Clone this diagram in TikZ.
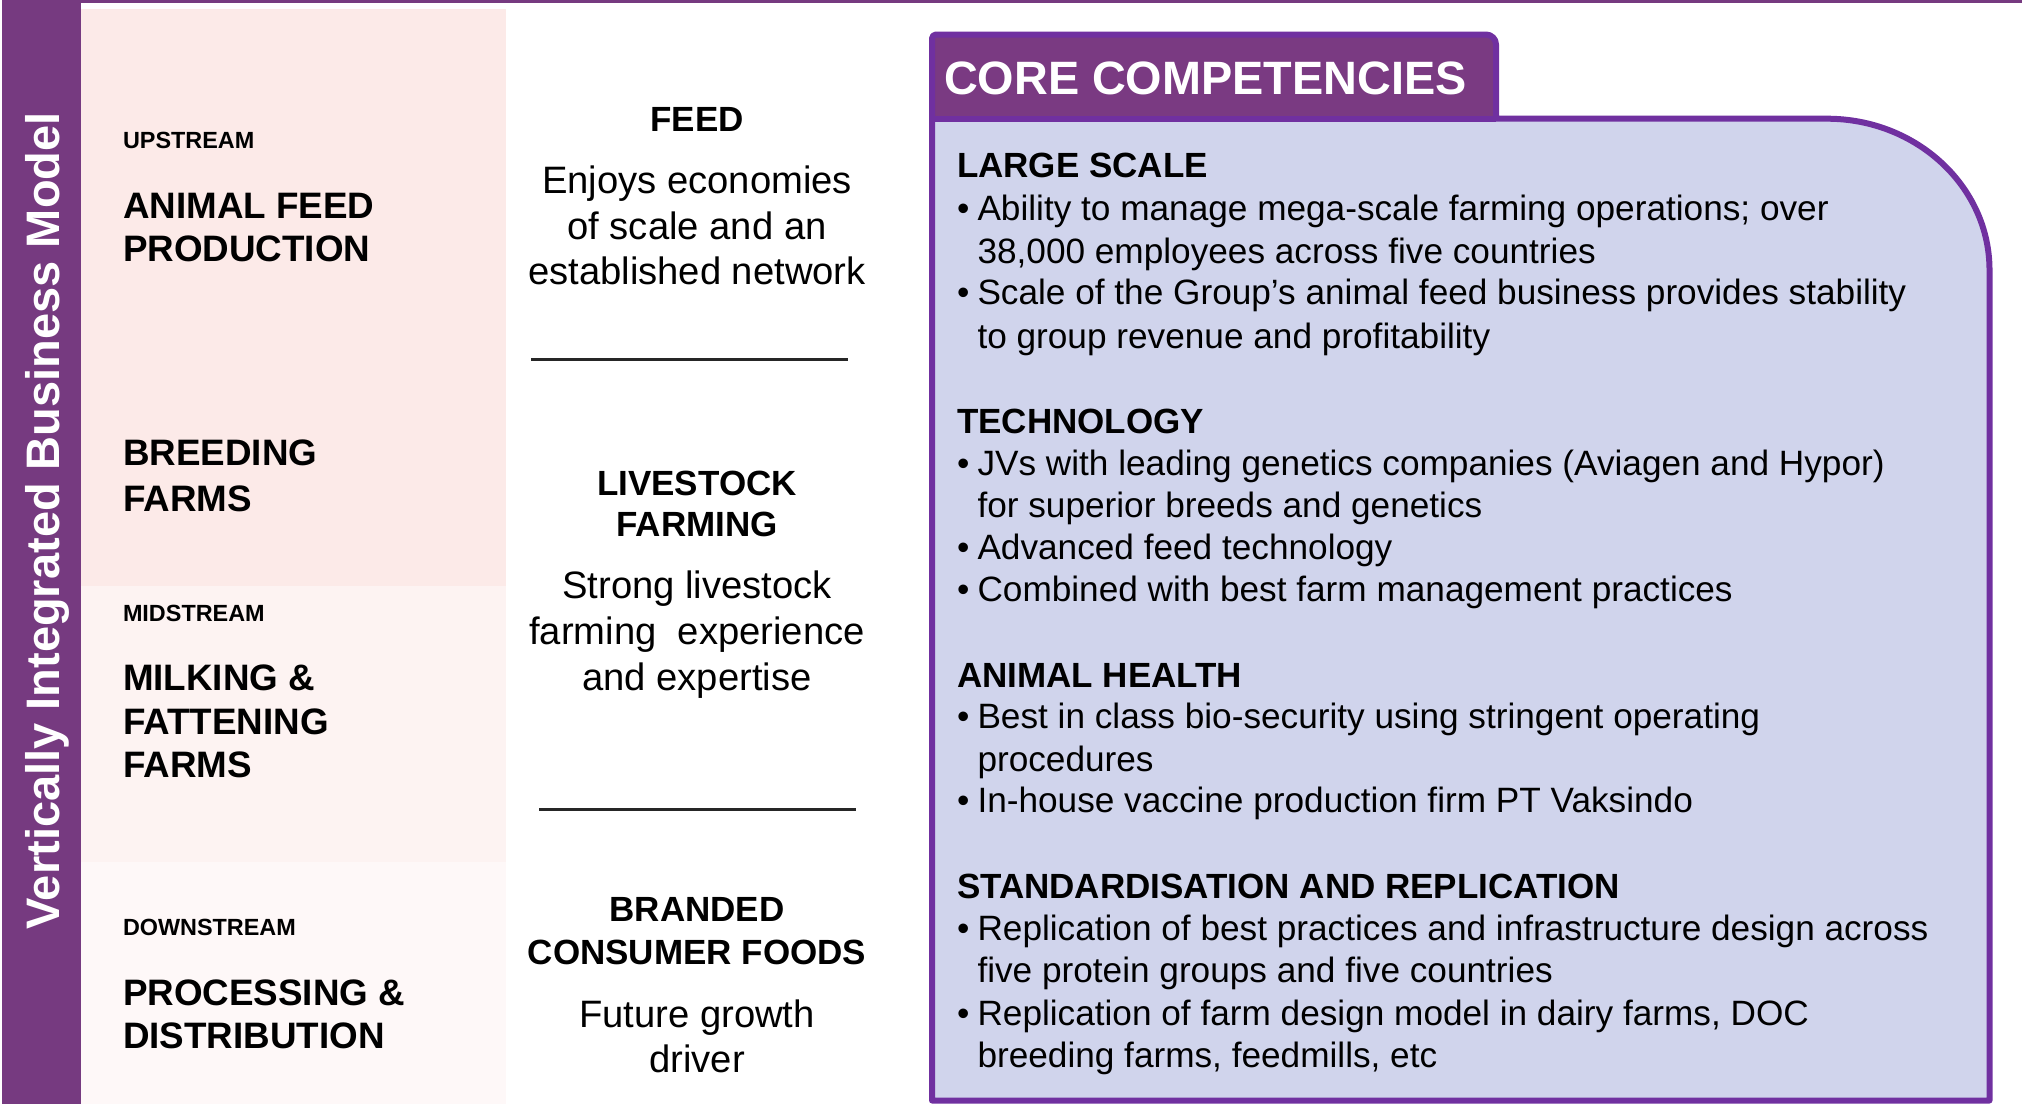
\documentclass[tikz,border=0pt]{standalone}
\usepackage{fontspec}
\setmainfont{Liberation Sans}
\definecolor{barpurple}{HTML}{763A80}
\definecolor{tabpurple}{HTML}{7A3A82}
\definecolor{edgepurple}{HTML}{7030A0}
\definecolor{panelfill}{HTML}{D0D4EC}
\definecolor{bandA}{HTML}{FCEAE8}
\definecolor{bandB}{HTML}{FDF3F2}
\definecolor{bandC}{HTML}{FEF8F8}
\tikzset{
  txt/.style={inner sep=0pt, outer sep=0pt},
  vtext/.style={txt, text=white, font=\fontsize{23.5}{28}\selectfont\bfseries},
  streamlbl/.style={txt, anchor=base west, font=\fontsize{11.7}{14}\selectfont\bfseries},
  lhead/.style={txt, anchor=base west, font=\fontsize{18.4}{22}\selectfont\bfseries},
  mhead/.style={txt, anchor=base, font=\fontsize{17.5}{21}\selectfont\bfseries},
  mbody/.style={txt, anchor=base, font=\fontsize{19.1}{23}\selectfont},
  corelbl/.style={txt, anchor=base west, text=white, font=\fontsize{23.4}{28}\selectfont\bfseries},
  rhead/.style={txt, anchor=base west, font=\fontsize{17.5}{21}\selectfont\bfseries},
  rbody/.style={txt, anchor=base west, font=\fontsize{17.6}{21}\selectfont},
  sepline/.style={draw=black!85, line width=1.1pt},
}
\begin{document}
\begin{tikzpicture}[x=0.5pt, y=-0.5pt]
\useasboundingbox (0,0) rectangle (2022,1104);
\fill[white] (0,0) rectangle (2022,1104);
% top line
\fill[barpurple] (81,0) rectangle (2022,2.5);
% left bar
\fill[barpurple] (2,0) rectangle (81,1104);
% bands
\fill[bandA] (81,9) rectangle (506,586);
\fill[bandB] (81,586) rectangle (506,862);
\fill[bandC] (81,862) rectangle (506,1104);
% vertical title
\node[vtext, rotate=90, anchor=base] (vt) at (59,521) {Vertically Integrated Business Model};
% left column
\node[streamlbl] (up) at (123,148) {UPSTREAM};
\node[lhead] (af1) at (123,218) {ANIMAL FEED};
\node[lhead] (af2) at (123,261) {PRODUCTION};
\node[lhead] (bf1) at (123,465) {BREEDING};
\node[lhead] (bf2) at (123,511) {FARMS};
\node[streamlbl] (mid) at (123,621.5) {MIDSTREAM};
\node[lhead] (mf1) at (123,690) {MILKING \&};
\node[lhead] (mf2) at (123,734) {FATTENING};
\node[lhead] (mf3) at (123,777.5) {FARMS};
\node[streamlbl] (down) at (123,935) {DOWNSTREAM};
\node[lhead] (pd1) at (123,1005) {PROCESSING \&};
\node[lhead] (pd2) at (123,1048.5) {DISTRIBUTION};
% middle column
\node[mhead] (feed) at (697,131) {FEED};
\node[mbody] (fe1) at (697,193) {Enjoys economies};
\node[mbody] (fe2) at (697,239.5) {of scale and an};
\node[mbody] (fe3) at (697,284.5) {established network};
\coordinate (s1a) at (531,359.5);
\coordinate (s1b) at (848,359.5);
\draw[sepline] (s1a) -- (s1b);
\node[mhead] (lf1) at (697,495) {LIVESTOCK};
\node[mhead] (lf2) at (697,536.5) {FARMING};
\node[mbody] (lb1) at (697,598.5) {Strong livestock};
\node[mbody] (lb2) at (697,644) {farming\ \ experience};
\node[mbody] (lb3) at (697,690) {and expertise};
\coordinate (s2a) at (539,809.5);
\coordinate (s2b) at (856,809.5);
\draw[sepline] (s2a) -- (s2b);
\node[mhead] (bc1) at (697,921.5) {BRANDED};
\node[mhead] (bc2) at (697,964) {CONSUMER FOODS};
\node[mbody] (bb1) at (697,1027) {Future growth};
\node[mbody] (bb2) at (697,1072.5) {driver};
% right panel
\fill[panelfill] (932,1100.5) -- (932,118.7) -- (1827,118.7)
  .. controls (1916.7,118.7) and (1989.5,186.6) .. (1989.5,270)
  -- (1989.5,1100.5) -- cycle;
\fill[tabpurple, rounded corners=4pt] (932,118.7) -- (932,34.5) -- (1496,34.5) -- (1496,118.7) [sharp corners] -- cycle;
\draw[edgepurple, line width=3pt, line join=round]
  (932,1100.5) -- (932,40) [rounded corners=2pt] -- (932,34.5) [rounded corners=5pt] -- (1496,34.5) [sharp corners] -- (1496,118.7)
  -- (1827,118.7)
  .. controls (1916.7,118.7) and (1989.5,186.6) .. (1989.5,270)
  -- (1989.5,1100.5) -- cycle;
\draw[edgepurple, line width=3pt] (932,118.7) -- (1496,118.7);
\node[corelbl] (core) at (944,94) {CORE COMPETENCIES};
% large scale
\node[rhead] (h1) at (957,177.5) {LARGE SCALE};
\node[rbody] (b11) at (957,220.5) {•};
\node[rbody] (t11) at (977.5,220.5) {Ability to manage mega-scale farming operations; over};
\node[rbody] (t12) at (977.5,263) {38,000 employees across five countries};
\node[rbody] (b12) at (957,304.5) {•};
\node[rbody] (t13) at (977.5,304.5) {Scale of the Group’s animal feed business provides stability};
\node[rbody] (t14) at (977.5,348) {to group revenue and profitability};
% technology
\node[rhead] (h2) at (957,433) {TECHNOLOGY};
\node[rbody] (b21) at (957,475) {•};
\node[rbody] (t21) at (977.5,475) {JVs with leading genetics companies (Aviagen and Hypor)};
\node[rbody] (t22) at (977.5,517) {for superior breeds and genetics};
\node[rbody] (b22) at (957,559.5) {•};
\node[rbody] (t23) at (977.5,559.5) {Advanced feed technology};
\node[rbody] (b23) at (957,601) {•};
\node[rbody] (t24) at (977.5,601) {Combined with best farm management practices};
% animal health
\node[rhead] (h3) at (957,687) {ANIMAL HEALTH};
\node[rbody] (b31) at (957,728.5) {•};
\node[rbody] (t31) at (977.5,728.5) {Best in class bio-security using stringent operating};
\node[rbody] (t32) at (977.5,771) {procedures};
\node[rbody] (b32) at (957,812.5) {•};
\node[rbody] (t33) at (977.5,812.5) {In-house vaccine production firm PT Vaksindo};
% standardisation
\node[rhead] (h4) at (957,898.5) {STANDARDISATION AND REPLICATION};
\node[rbody] (b41) at (957,940) {•};
\node[rbody] (t41) at (977.5,940) {Replication of best practices and infrastructure design across};
\node[rbody] (t42) at (977.5,982.5) {five protein groups and five countries};
\node[rbody] (b42) at (957,1025) {•};
\node[rbody] (t43) at (977.5,1025) {Replication of farm design model in dairy farms, DOC};
\node[rbody] (t44) at (977.5,1067.5) {breeding farms, feedmills, etc};
\end{tikzpicture}
\end{document}
